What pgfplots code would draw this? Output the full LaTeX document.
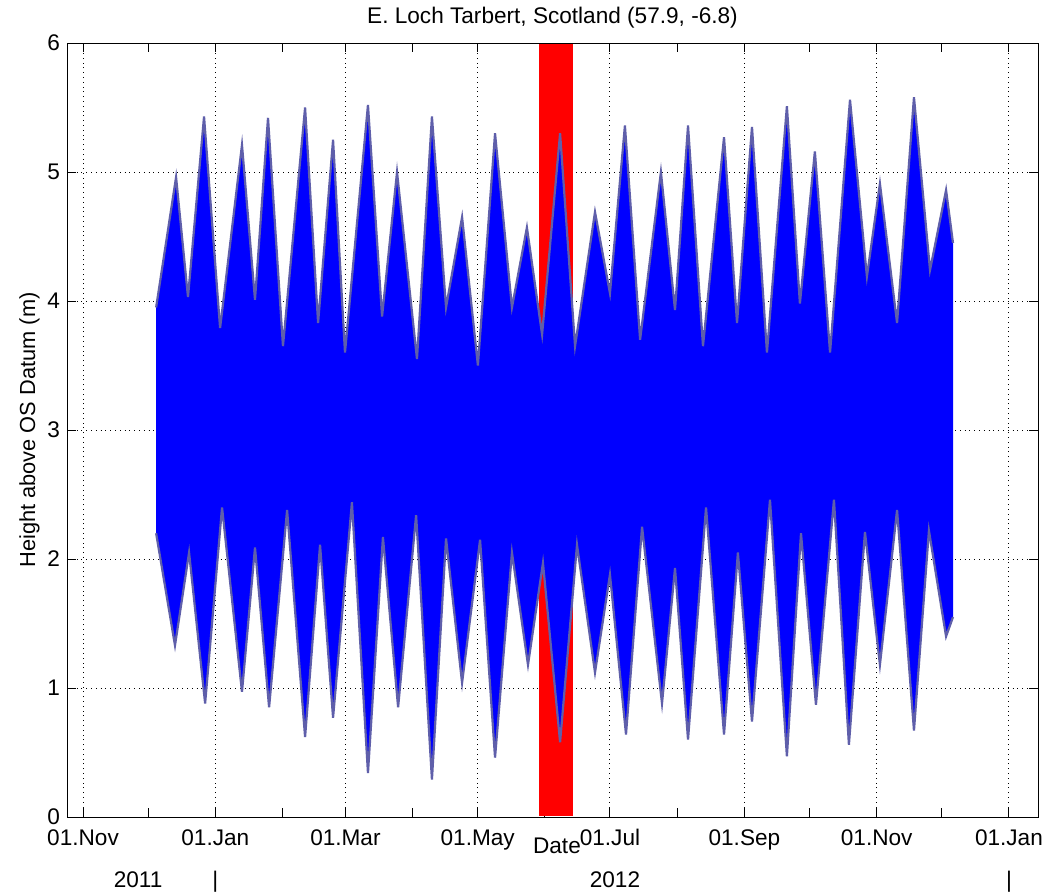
\documentclass[border=0pt]{standalone}
\usepackage{fontspec}
\setmainfont{Liberation Sans}
\usepackage{pgfplots}
\usepackage{pgfplotstable}
\pgfplotsset{compat=1.18}
\usepgfplotslibrary{fillbetween}
\definecolor{mblue}{RGB}{0,0,255}
\definecolor{mred}{RGB}{255,0,0}
\definecolor{edgecol}{RGB}{95,95,170}
\newcommand{\tfont}{\fontsize{11.3}{13.5}\selectfont}

% day 0 = 01 Nov 2011; upper / lower envelope of the tidal signal
\pgfplotstableread{
day h
33.7 3.95
42.9 4.96
48.4 4.03
55.8 5.43
63.2 3.79
73.3 5.21
79.3 4.01
85.3 5.42
92.2 3.65
102.4 5.50
108.4 3.83
115.3 5.25
120.8 3.60
131.4 5.52
137.9 3.88
144.8 5.00
154.0 3.55
160.9 5.43
167.4 3.95
174.8 4.65
182.1 3.50
190.0 5.30
197.8 3.95
204.7 4.57
211.7 3.74
220.0 5.30
226.9 3.65
236.1 4.69
243.0 4.06
249.9 5.36
256.9 3.70
266.5 5.00
273.0 3.93
279.0 5.36
285.9 3.65
295.6 5.27
301.6 3.83
308.5 5.35
315.4 3.60
324.6 5.51
330.6 3.98
337.5 5.16
344.5 3.60
353.7 5.56
361.5 4.19
367.5 4.91
375.4 3.83
383.2 5.58
390.6 4.24
398.0 4.86
401.2 4.45
}\hwtab

\pgfplotstableread{
day h
33.7 2.20
42.4 1.33
48.9 2.05
56.3 0.88
64.1 2.40
73.3 0.97
79.3 2.09
85.8 0.85
94.1 2.38
102.4 0.62
109.3 2.11
115.3 0.77
124.0 2.44
131.4 0.34
138.3 2.17
145.3 0.85
153.6 2.34
160.9 0.29
167.4 2.16
174.8 1.04
183.1 2.15
190.0 0.46
197.8 2.05
205.2 1.18
212.1 1.97
220.0 0.58
227.8 2.11
236.1 1.12
243.0 1.88
250.4 0.64
257.8 2.25
267.0 0.88
273.0 1.93
279.0 0.60
287.3 2.40
295.6 0.64
302.0 2.05
308.5 0.74
316.8 2.46
324.6 0.47
331.1 2.20
338.0 0.87
346.3 2.46
353.2 0.56
360.6 2.21
367.5 1.18
375.4 2.38
383.2 0.67
390.1 2.22
398.0 1.40
401.2 1.55
}\lwtab

\begin{document}
\begin{tikzpicture}
\begin{axis}[
  at={(0,0)}, anchor=south west,
  scale only axis, width=485.5pt, height=387pt,
  set layers, clip=false,
  xmin=-7.4, xmax=440.4, ymin=0, ymax=6,
  xtick={0,61,121,182,243,305,366,427},
  xticklabels={01.Nov,01.Jan,01.Mar,01.May,01.Jul,01.Sep,01.Nov,01.Jan},
  minor xtick={30,92,152,213,274,335,396},
  ytick={0,1,...,6},
  /pgf/number format/assume math mode=true,
  xmajorgrids, ymajorgrids,
  grid style={dotted, black, line width=0.5pt},
  major tick length=4.5pt, minor tick length=4.5pt,
  tick style={black, line width=0.5pt},
  axis line style={black, line width=0.5pt},
  tick label style={font=\tfont},
  xticklabel style={anchor=base, yshift=-14pt},
  title={E. Loch Tarbert, Scotland (57.9, -6.8)},
  title style={font=\fontsize{11.3}{13.5}\selectfont, at={(axis description cs:0.5,1)}, anchor=base, yshift=4pt},
  xlabel={Date},
  xlabel style={font=\tfont, at={(axis description cs:0.5046,0)}, anchor=base, yshift=-18pt},
  ylabel={Height above OS Datum (m)},
  ylabel style={font=\fontsize{10.9}{13}\selectfont, at={(axis description cs:-0.0386,0.5)}, anchor=center},
]
\addplot[fill=mred, draw=none, on layer=pre main] coordinates {(210.3,0.004) (210.3,5.996) (225.9,5.996) (225.9,0.004)};
\addplot[name path=up, edgecol, line width=1.1pt] table[x=day, y=h] {\hwtab};
\addplot[name path=lo, edgecol, line width=1.1pt] table[x=day, y=h] {\lwtab};
\addplot[mblue] fill between[of=up and lo];
\node[font=\tfont, anchor=base] at (axis cs:25.4,-0.55) {2011};
\node[font=\tfont, anchor=base] at (axis cs:61,-0.55) {|};
\node[font=\tfont, anchor=base] at (axis cs:245.3,-0.55) {2012};
\node[font=\tfont, anchor=base] at (axis cs:427,-0.55) {|};
\end{axis}
\pgfresetboundingbox
\path (-33.5pt,-39pt) rectangle (494pt,408.5pt);
\end{tikzpicture}
\end{document}
